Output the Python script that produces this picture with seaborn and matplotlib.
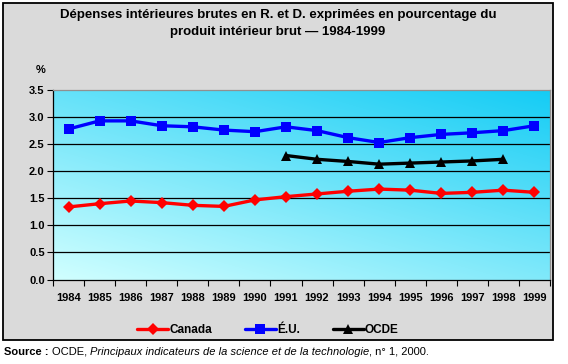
import matplotlib
matplotlib.use("Agg")
import matplotlib.pyplot as plt
import matplotlib.patches as mpatches
import numpy as np
import pandas as pd
import seaborn as sns

sns.set_theme(style="white")
plt.rcParams["font.family"] = ["Liberation Sans", "DejaVu Sans"]
plt.rcParams["text.color"] = "black"
plt.rcParams["xtick.color"] = "black"
plt.rcParams["ytick.color"] = "black"

years = list(range(1984, 2000))
canada = [1.34, 1.40, 1.45, 1.42, 1.37, 1.35, 1.47, 1.53, 1.58, 1.63, 1.67, 1.65, 1.59, 1.61, 1.65, 1.61]
eu = [2.78, 2.93, 2.93, 2.84, 2.82, 2.76, 2.73, 2.82, 2.75, 2.62, 2.53, 2.62, 2.68, 2.71, 2.75, 2.84]
ocde_years = list(range(1991, 1999))
ocde = [2.29, 2.22, 2.18, 2.13, 2.15, 2.17, 2.19, 2.22]

W, H = 568, 364
fig = plt.figure(figsize=(W / 100, H / 100), dpi=100, facecolor="white")

# fond gris encadré
fig.patches.append(mpatches.Rectangle((3 / W, 1 - 340 / H), 550 / W, 337 / H, transform=fig.transFigure,
                                      facecolor="#dadada", edgecolor="black", linewidth=1.3, zorder=-5))

ax = fig.add_axes([53 / W, 1 - 279.5 / H, 497 / W, 189.5 / H])
ax.set_zorder(2)

# dégradé cyan
gx, gy = np.meshgrid(np.linspace(0, 1, 200), np.linspace(0, 1, 200))
t = np.clip((gx * 0.6 + gy * 0.8) / 1.4, 0, 1)
c0 = np.array([0.82, 1.0, 1.0])
c1 = np.array([0.08, 0.80, 0.96])
img = c0[None, None, :] * (1 - t[..., None]) + c1[None, None, :] * t[..., None]
ax.imshow(img, extent=[0, 1, 0, 1], transform=ax.transAxes, origin="lower", aspect="auto", zorder=0)

df_ca = pd.DataFrame({"i": np.arange(len(years)), "v": canada})
df_eu = pd.DataFrame({"i": np.arange(len(years)), "v": eu})
df_oc = pd.DataFrame({"i": [years.index(y) for y in ocde_years], "v": ocde})

kw = dict(x="i", y="v", ax=ax, linewidth=2.4, markeredgewidth=0, zorder=3)
sns.lineplot(data=df_ca, color="#ff0000", marker="D", markersize=6, label="Canada", **kw)
sns.lineplot(data=df_eu, color="#0000ff", marker="s", markersize=7, label="É.U.", **kw)
sns.lineplot(data=df_oc, color="black", marker="^", markersize=7.5, label="OCDE", **kw)

ax.set_xlim(-0.5, len(years) - 0.5)
ax.set_ylim(0, 3.5)
ax.set_yticks(np.arange(0, 3.51, 0.5))
ax.set_yticklabels([f"{v:.1f}" for v in np.arange(0, 3.51, 0.5)])
ax.set_xticks(np.arange(len(years)))
ax.set_xticklabels([str(y) for y in years])
ax.set_xticks(np.arange(-0.5, len(years)), minor=True)
ax.tick_params(axis="x", which="major", length=0, pad=10, labelsize=8)
ax.tick_params(axis="x", which="minor", length=4, width=0.8, color="black", direction="out", bottom=True)
ax.tick_params(axis="y", length=4, width=0.8, color="black", direction="out", pad=2, labelsize=8, left=True)
for lab in ax.get_xticklabels() + ax.get_yticklabels():
    lab.set_fontweight("bold")
for y in np.arange(0.5, 3.01, 0.5):
    ax.axhline(y, color="black", linewidth=0.9, zorder=1)
ax.set_xlabel("")
ax.set_ylabel("")
for s in ["left", "bottom"]:
    ax.spines[s].set_color("black")
    ax.spines[s].set_linewidth(0.9)
for s in ["top", "right"]:
    ax.spines[s].set_color("#909090")
    ax.spines[s].set_linewidth(0.9)

ax.get_legend().remove()
h, l = ax.get_legend_handles_labels()
leg = fig.legend(h, l, loc="center", bbox_to_anchor=(268 / W, 1 - 330 / H), ncol=3, frameon=False,
                 handlelength=2.6, handletextpad=0.1, columnspacing=2.8,
                 prop={"weight": "bold", "size": 8.5})

fig.text(278 / W, 1 - 15 / H, "Dépenses intérieures brutes en R. et D. exprimées en pourcentage du",
         ha="center", va="center", fontsize=9.5, fontweight="bold")
fig.text(278 / W, 1 - 32 / H, "produit intérieur brut — 1984-1999",
         ha="center", va="center", fontsize=9.5, fontweight="bold")
fig.text(41 / W, 1 - 70 / H, "%", ha="center", va="center", fontsize=8, fontweight="bold")

# ligne de source, morceaux enchaînés
fig.canvas.draw()
rend = fig.canvas.get_renderer()
x = 4
for txt, kws in [("Source : ", dict(fontweight="bold")), ("OCDE, ", {}),
                 ("Principaux indicateurs de la science et de la technologie", dict(style="italic")),
                 (", n° 1, 2000.", {})]:
    tt = fig.text(x / W, 1 - 352 / H, txt, ha="left", va="center", fontsize=8, **kws)
    x += tt.get_window_extent(rend).width

fig.savefig("out.png", dpi=100, facecolor="white")
